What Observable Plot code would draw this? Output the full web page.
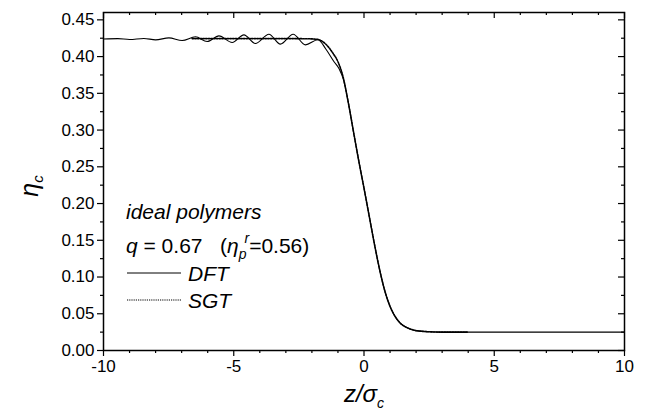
<!DOCTYPE html>
<html><head><meta charset="utf-8">
<script src="https://cdn.jsdelivr.net/npm/d3@7"></script>
<script src="https://cdn.jsdelivr.net/npm/@observablehq/plot@0.6"></script>
<style>body{margin:0;background:#fff}</style>
</head><body><div id="chart"></div>
<script>
// DFT profile (solid)
const zDFT = [-10, -9.45, -9.0, -8.45, -8.0, -7.49, -6.98, -6.47, -6.02, -5.57, -5.06, -4.61, -4.17, -3.65, -3.21, -2.72, -2.25, -1.77, -1.46, -1.15, -0.95, -0.8, -0.6, -0.4, -0.2, 0, 0.2, 0.4, 0.6, 0.8, 1.0, 1.2, 1.4, 1.6, 1.8, 2.0, 2.5, 3.0, 10];
const etaDFT = [0.4240, 0.4244, 0.4233, 0.4247, 0.4228, 0.4255, 0.4219, 0.4269, 0.4205, 0.4282, 0.4192, 0.4296, 0.4178, 0.4305, 0.4169, 0.4305, 0.4160, 0.4230, 0.4100, 0.3930, 0.3830, 0.3700, 0.337, 0.297, 0.258, 0.221, 0.183, 0.145, 0.110, 0.081, 0.060, 0.046, 0.037, 0.032, 0.029, 0.027, 0.0255, 0.025, 0.025];
// SGT profile (dotted)
const zSGT = [-6.6, -3.0, -2.2, -1.8, -1.5, -1.2, -1.0, -0.8, -0.6, -0.4, -0.2, 0, 0.2, 0.4, 0.6, 0.8, 1.0, 1.2, 1.4, 1.6, 1.8, 2.0, 2.5, 3.0, 4.0];
const etaSGT = [0.4245, 0.4245, 0.4243, 0.4235, 0.418, 0.405, 0.393, 0.372, 0.337, 0.297, 0.258, 0.221, 0.183, 0.145, 0.110, 0.081, 0.060, 0.046, 0.037, 0.032, 0.029, 0.027, 0.0255, 0.025, 0.025];
// ticks
const xMajor = [-10, -5, 0, 5, 10];
const xMinor = [-9, -8, -7, -6, -4, -3, -2, -1, 1, 2, 3, 4, 6, 7, 8, 9];
const yMajor = [0, 0.05, 0.10, 0.15, 0.20, 0.25, 0.30, 0.35, 0.40, 0.45];
const yMinor = [0.025, 0.075, 0.125, 0.175, 0.225, 0.275, 0.325, 0.375, 0.425];

const dft = zDFT.map((z, i) => ({z, eta: etaDFT[i]}));
const sgt = zSGT.map((z, i) => ({z, eta: etaSGT[i]}));

const W = 647, H = 413, mL = 103, mR = 23, mT = 12, mB = 63;
const fw = W - mL - mR, fh = H - mT - mB;
const font = "Liberation Sans, Arial, sans-serif";
const plot = Plot.plot({
  width: W, height: H,
  marginLeft: mL, marginRight: mR, marginTop: mT, marginBottom: mB,
  style: {fontFamily: font, fontSize: "17px", color: "black", background: "white", overflow: "visible"},
  x: {domain: [-10, 10]},
  y: {domain: [0, 0.46]},
  marks: [
    Plot.axisX({ticks: xMajor, tickSize: 6, tickPadding: 3, tickFormat: d => String(d), label: null, strokeWidth: 1.2}),
    Plot.axisX({ticks: xMinor, tickSize: 3, text: null, label: null, strokeWidth: 1.2}),
    Plot.tickX(xMajor, {x: d => d, insetBottom: fh - 6, stroke: "black", strokeWidth: 1.2}),
    Plot.tickX(xMinor, {x: d => d, insetBottom: fh - 3, stroke: "black", strokeWidth: 1.2}),
    Plot.axisY({ticks: yMajor, tickSize: 6, tickPadding: 3, tickFormat: d3.format(".2f"), label: null, strokeWidth: 1.2}),
    Plot.axisY({ticks: yMinor, tickSize: 3, text: null, label: null, strokeWidth: 1.2}),
    Plot.tickY(yMajor, {y: d => d, insetLeft: fw - 6, stroke: "black", strokeWidth: 1.2}),
    Plot.tickY(yMinor, {y: d => d, insetLeft: fw - 3, stroke: "black", strokeWidth: 1.2}),
    Plot.line(dft, {x: "z", y: "eta", curve: "monotone-x", stroke: "black", strokeWidth: 1.1}),
    Plot.line(sgt, {x: "z", y: "eta", curve: "monotone-x", stroke: "black", strokeWidth: 1.6, strokeDasharray: "1.5,1.2"}),
    Plot.frame({stroke: "black", strokeWidth: 1.5})
  ]
});
document.getElementById("chart").appendChild(plot);

const svg = d3.select(plot);
// axis labels
const yl = svg.append("text").attr("transform", "translate(38,186) rotate(-90)")
  .attr("text-anchor", "middle").attr("font-family", font).attr("font-size", 25).attr("font-style", "italic");
yl.append("tspan").text("η");
yl.append("tspan").attr("font-size", 15).attr("dy", 5).text("c");

const xl = svg.append("text").attr("x", 364).attr("y", 402)
  .attr("text-anchor", "middle").attr("font-family", font).attr("font-size", 24).attr("font-style", "italic");
xl.append("tspan").text("z/σ");
xl.append("tspan").attr("font-size", 14).attr("dy", 6).text("c");

// legend
const lg = svg.append("g").attr("font-family", font).attr("font-size", 21).attr("fill", "black").attr("text-anchor", "start");
lg.append("text").attr("x", 126).attr("y", 219).attr("font-style", "italic").text("ideal polymers");
const q = lg.append("text").attr("x", 126).attr("y", 253);
q.append("tspan").attr("font-style", "italic").text("q");
q.append("tspan").text(" = 0.67\u00a0\u00a0\u00a0(");
q.append("tspan").attr("font-style", "italic").text("η");
q.append("tspan").attr("font-style", "italic").attr("font-size", 14).attr("dy", 6).text("p");
q.append("tspan").attr("font-style", "italic").attr("font-size", 14).attr("dy", -16).attr("dx", -2).text("r");
q.append("tspan").attr("dy", 10).text("=0.56)");
lg.append("line").attr("x1", 127).attr("x2", 181).attr("y1", 273).attr("y2", 273).attr("stroke", "black").attr("stroke-width", 1);
lg.append("text").attr("x", 188).attr("y", 280.5).attr("font-style", "italic").text("DFT");
lg.append("line").attr("x1", 127).attr("x2", 181).attr("y1", 300).attr("y2", 300).attr("stroke", "black").attr("stroke-width", 1.2).attr("stroke-dasharray", "1.2,1");
lg.append("text").attr("x", 188).attr("y", 307.5).attr("font-style", "italic").text("SGT");
</script>
</body></html>
